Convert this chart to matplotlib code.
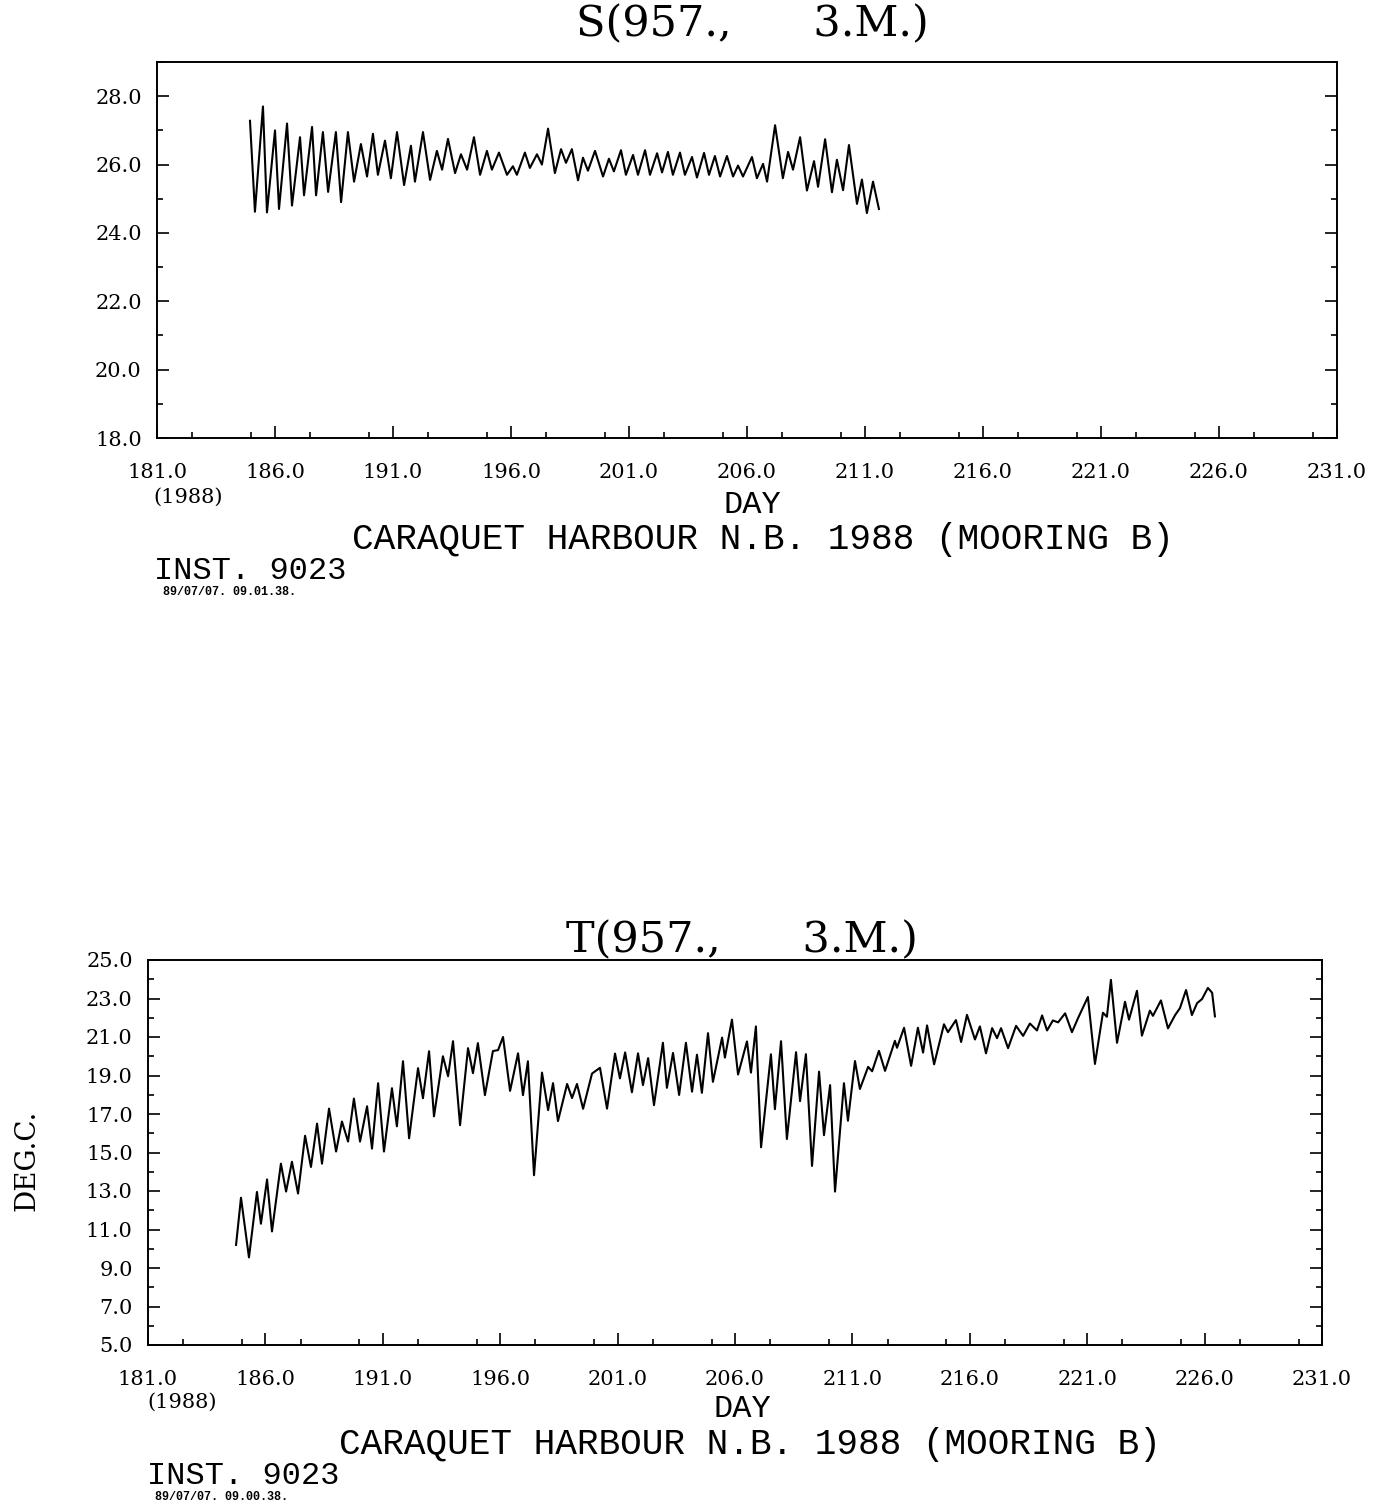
import matplotlib
matplotlib.use('Agg')
import matplotlib.pyplot as plt
from matplotlib.ticker import MultipleLocator

# salinity record (day of year, value)
s_day = [184.94, 185.15, 185.49, 185.66, 186.00, 186.17, 186.51, 186.72, 187.06, 187.23,
         187.57, 187.74, 188.03, 188.25, 188.58, 188.80, 189.09, 189.35, 189.64, 189.90,
         190.15, 190.36, 190.66, 190.91, 191.17, 191.47, 191.76, 191.93, 192.27, 192.57,
         192.86, 193.08, 193.33, 193.63, 193.88, 194.14, 194.43, 194.69, 194.98, 195.19,
         195.49, 195.83, 196.08, 196.25, 196.59, 196.80, 197.10, 197.31, 197.57, 197.86,
         198.12, 198.33, 198.58, 198.84, 199.05, 199.26, 199.56, 199.90, 200.15, 200.36,
         200.66, 200.87, 201.17, 201.38, 201.68, 201.89, 202.19, 202.40, 202.65, 202.86,
         203.16, 203.37, 203.67, 203.88, 204.18, 204.39, 204.64, 204.86, 205.15, 205.41,
         205.62, 205.83, 206.21, 206.42, 206.68, 206.85, 207.19, 207.52, 207.74, 207.95,
         208.25, 208.54, 208.84, 209.01, 209.31, 209.60, 209.81, 210.07, 210.32, 210.66,
         210.87, 211.08, 211.34, 211.59]
s_val = [27.28, 24.62, 27.70, 24.60, 27.00, 24.70, 27.20, 24.80, 26.80, 25.10,
         27.10, 25.10, 26.95, 25.20, 26.95, 24.90, 26.95, 25.50, 26.60, 25.65,
         26.90, 25.70, 26.70, 25.60, 26.95, 25.40, 26.55, 25.50, 26.95, 25.55,
         26.40, 25.85, 26.75, 25.75, 26.30, 25.85, 26.80, 25.70, 26.40, 25.85,
         26.35, 25.70, 25.95, 25.70, 26.35, 25.90, 26.30, 26.00, 27.05, 25.75,
         26.45, 26.05, 26.45, 25.54, 26.20, 25.82, 26.40, 25.65, 26.17, 25.80,
         26.42, 25.70, 26.28, 25.70, 26.42, 25.70, 26.33, 25.77, 26.37, 25.70,
         26.35, 25.70, 26.22, 25.62, 26.34, 25.70, 26.25, 25.65, 26.25, 25.65,
         25.97, 25.65, 26.22, 25.60, 26.02, 25.50, 27.15, 25.60, 26.37, 25.85,
         26.80, 25.24, 26.10, 25.35, 26.74, 25.19, 26.14, 25.25, 26.57, 24.85,
         25.56, 24.58, 25.50, 24.70]

# temperature record (day of year, deg C)
t_day = [184.75, 184.96, 185.30, 185.64, 185.81, 186.07, 186.28, 186.66, 186.88, 187.13,
         187.39, 187.69, 187.94, 188.20, 188.41, 188.71, 189.01, 189.26, 189.52, 189.77,
         190.03, 190.33, 190.54, 190.80, 191.05, 191.39, 191.60, 191.86, 192.12, 192.50,
         192.71, 192.97, 193.18, 193.56, 193.78, 193.99, 194.29, 194.63, 194.84, 195.05,
         195.35, 195.69, 195.91, 196.12, 196.42, 196.76, 196.97, 197.18, 197.44, 197.78,
         198.04, 198.25, 198.46, 198.85, 199.06, 199.27, 199.53, 199.91, 200.25, 200.55,
         200.89, 201.10, 201.32, 201.61, 201.87, 202.08, 202.30, 202.55, 202.93, 203.10,
         203.36, 203.62, 203.91, 204.17, 204.38, 204.59, 204.85, 205.06, 205.45, 205.57,
         205.87, 206.13, 206.51, 206.68, 206.89, 207.11, 207.53, 207.70, 207.96, 208.21,
         208.60, 208.77, 209.02, 209.28, 209.58, 209.79, 210.05, 210.26, 210.64, 210.81,
         211.11, 211.32, 211.67, 211.84, 212.13, 212.39, 212.81, 212.90, 213.20, 213.50,
         213.79, 214.01, 214.18, 214.48, 214.90, 215.07, 215.41, 215.63, 215.88, 216.22,
         216.43, 216.69, 216.95, 217.16, 217.33, 217.63, 217.97, 218.27, 218.56, 218.86,
         219.08, 219.29, 219.54, 219.76, 220.06, 220.35, 220.61, 221.03, 221.33, 221.67,
         221.84, 222.01, 222.27, 222.61, 222.78, 223.12, 223.33, 223.67, 223.80, 224.14,
         224.44, 224.74, 224.95, 225.21, 225.46, 225.68, 225.89, 226.14, 226.32, 226.44]
t_val = [10.20, 12.65, 9.55, 12.95, 11.30, 13.60, 10.90, 14.42, 12.97, 14.52,
         12.87, 15.87, 14.25, 16.50, 14.42, 17.28, 15.05, 16.61, 15.57, 17.80,
         15.57, 17.40, 15.20, 18.60, 15.05, 18.34, 16.36, 19.74, 15.74, 19.38,
         17.82, 20.26, 16.88, 20.00, 18.96, 20.78, 16.42, 20.42, 19.12, 20.68,
         17.98, 20.27, 20.32, 21.00, 18.20, 20.15, 17.98, 19.74, 13.82, 19.15,
         17.20, 18.60, 16.63, 18.56, 17.83, 18.56, 17.27, 19.10, 19.40, 17.28,
         20.14, 18.85, 20.20, 18.13, 20.15, 18.50, 19.90, 17.46, 20.70, 18.36,
         20.17, 17.99, 20.70, 18.16, 20.08, 18.10, 21.20, 18.67, 20.97, 19.93,
         21.90, 19.05, 20.77, 19.15, 21.55, 15.27, 20.10, 17.25, 20.78, 15.70,
         20.21, 17.67, 20.11, 14.30, 19.20, 15.90, 18.50, 12.97, 18.60, 16.65,
         19.75, 18.30, 19.45, 19.22, 20.28, 19.24, 20.80, 20.44, 21.48, 19.50,
         21.48, 20.19, 21.60, 19.58, 21.66, 21.25, 21.88, 20.74, 22.15, 20.87,
         21.55, 20.15, 21.46, 20.94, 21.46, 20.42, 21.58, 21.06, 21.70, 21.34,
         22.12, 21.34, 21.86, 21.76, 22.23, 21.25, 21.98, 23.08, 19.60, 22.26,
         22.05, 23.97, 20.70, 22.83, 21.90, 23.40, 21.07, 22.37, 22.10, 22.90,
         21.45, 22.13, 22.50, 23.44, 22.14, 22.76, 22.97, 23.55, 23.30, 22.07]

x_ticks = [181, 186, 191, 196, 201, 206, 211, 216, 221, 226, 231]
s_ticks = [18, 20, 22, 24, 26, 28]
t_ticks = [5, 7, 9, 11, 13, 15, 17, 19, 21, 23, 25]

W, H = 1390, 1508
serif = 'DejaVu Serif'
mono = 'Liberation Mono'

fig = plt.figure(figsize=(W / 100, H / 100), dpi=100)


def fx(px):
    return px / W


def fy(py):
    return 1 - py / H


def style_axes(ax, yticks, ylim, yminor):
    # old plotter look: inward ticks, labels with one decimal
    ax.set_xlim(181, 231)
    ax.set_ylim(*ylim)
    ax.set_xticks(x_ticks)
    ax.set_xticklabels(['%.1f' % v for v in x_ticks], family=serif, fontsize=15)
    ax.set_yticks(yticks)
    ax.set_yticklabels(['%.1f' % v for v in yticks], family=serif, fontsize=15)
    ax.xaxis.set_minor_locator(MultipleLocator(2.5))
    ax.yaxis.set_minor_locator(MultipleLocator(yminor))
    ax.tick_params(which='both', direction='in', top=False, right=True, width=1.2)
    ax.tick_params(which='major', length=8.5)
    ax.tick_params(which='minor', length=4.5)
    ax.tick_params(axis='x', which='major', pad=18)
    ax.tick_params(axis='y', which='major', pad=11)
    for sp in ax.spines.values():
        sp.set_linewidth(1.4)


# ---- salinity panel ----
ax1 = fig.add_axes([fx(157), fy(438), fx(1337 - 157), (438 - 62) / H])
ax1.plot(s_day, s_val, color='black', lw=1.5)
style_axes(ax1, s_ticks, (18, 29), 1)

fig.text(fx(752), fy(24), 'S(957.,      3.M.)', family=serif, fontsize=31,
         ha='center', va='center')
fig.text(fx(188), fy(497), '(1988)', family=serif, fontsize=15, ha='center', va='center')
fig.text(fx(752), fy(505), 'DAY', family=mono, fontsize=23, ha='center', va='center')
fig.text(fx(763), fy(540), 'CARAQUET HARBOUR N.B. 1988 (MOORING B)', family=mono,
         fontsize=26, ha='center', va='center')
fig.text(fx(154), fy(571), 'INST. 9023', family=mono, fontsize=23, ha='left', va='center')
fig.text(fx(163), fy(592), '89/07/07. 09.01.38.', family=mono, fontsize=8.5,
         weight='bold', ha='left', va='center')

# ---- temperature panel ----
ax2 = fig.add_axes([fx(148), fy(1345), fx(1322 - 148), (1345 - 960) / H])
ax2.plot(t_day, t_val, color='black', lw=1.5)
style_axes(ax2, t_ticks, (5, 25), 1)

fig.text(fx(742), fy(940), 'T(957.,      3.M.)', family=serif, fontsize=31,
         ha='center', va='center')
fig.text(fx(182), fy(1402), '(1988)', family=serif, fontsize=15, ha='center', va='center')
fig.text(fx(742), fy(1409), 'DAY', family=mono, fontsize=23, ha='center', va='center')
fig.text(fx(750), fy(1445), 'CARAQUET HARBOUR N.B. 1988 (MOORING B)', family=mono,
         fontsize=26, ha='center', va='center')
fig.text(fx(147), fy(1476), 'INST. 9023', family=mono, fontsize=23, ha='left', va='center')
fig.text(fx(155), fy(1497), '89/07/07. 09.00.38.', family=mono, fontsize=8.5,
         weight='bold', ha='left', va='center')
fig.text(fx(27), fy(1160), 'DEG.C.', family=serif, fontsize=20, rotation=90,
         ha='center', va='center')

fig.savefig('out.png', dpi=100)
